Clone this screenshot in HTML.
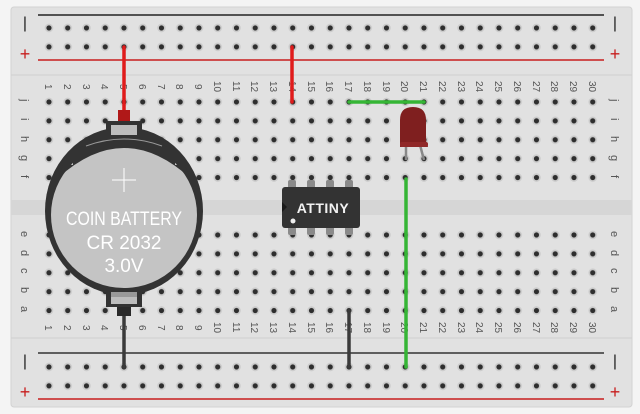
<!DOCTYPE html>
<html><head><meta charset="utf-8"><style>
html,body{margin:0;padding:0;background:#f4f4f4;}
svg{display:block;}
text{font-family:"Liberation Sans",sans-serif;}
</style></head><body>
<svg width="640" height="414" viewBox="0 0 640 414" xmlns="http://www.w3.org/2000/svg">
<defs>
<pattern id="h" patternUnits="userSpaceOnUse" width="18.75" height="18.9">
<circle cx="9.375" cy="9.45" r="4.3" fill="#cbcbcb"/>
<circle cx="9.375" cy="9.45" r="2.6" fill="#2e2e2e"/>
</pattern>
</defs>
<rect x="0" y="0" width="640" height="414" fill="#f4f4f4"/>
<rect x="11" y="7" width="621" height="400" rx="3" fill="#e1e1e1" stroke="#d2d2d2"/>
<line x1="11" y1="75" x2="632" y2="75" stroke="#d0d0d0"/>
<line x1="11" y1="338" x2="632" y2="338" stroke="#d0d0d0"/>
<rect x="11" y="200" width="621" height="15" fill="#d6d6d6"/>
<line x1="38" y1="15" x2="604" y2="15" stroke="#222" stroke-width="1.5"/>
<line x1="38" y1="60" x2="604" y2="60" stroke="#c81e1e" stroke-width="1.5"/>
<line x1="38" y1="353" x2="604" y2="353" stroke="#333" stroke-width="1.5"/>
<line x1="38" y1="399" x2="604" y2="399" stroke="#c81e1e" stroke-width="1.5"/>
<g font-size="16" text-anchor="middle">
<text x="25" y="28" fill="#222">|</text><text x="25" y="60" fill="#c81e1e" font-size="18">+</text>
<text x="615" y="28" fill="#222">|</text><text x="615" y="60" fill="#c81e1e" font-size="18">+</text>
<text x="25" y="366" fill="#222">|</text><text x="25" y="398" fill="#c81e1e" font-size="18">+</text>
<text x="615" y="366" fill="#222">|</text><text x="615" y="398" fill="#c81e1e" font-size="18">+</text>
</g>
<rect transform="translate(39.6,18.5)" width="562.5" height="37.8" fill="url(#h)"/>
<rect transform="translate(39.6,92.5)" width="562.5" height="94.5" fill="url(#h)"/>
<rect transform="translate(39.6,225.5)" width="562.5" height="94.5" fill="url(#h)"/>
<rect transform="translate(39.6,357.5)" width="562.5" height="37.8" fill="url(#h)"/>
<g font-size="10" fill="#555" id="nums">
<text transform="translate(45,84) rotate(90)">1</text>
<text transform="translate(64,84) rotate(90)">2</text>
<text transform="translate(83,84) rotate(90)">3</text>
<text transform="translate(101,84) rotate(90)">4</text>
<text transform="translate(120,84) rotate(90)">5</text>
<text transform="translate(139,84) rotate(90)">6</text>
<text transform="translate(158,84) rotate(90)">7</text>
<text transform="translate(176,84) rotate(90)">8</text>
<text transform="translate(195,84) rotate(90)">9</text>
<text transform="translate(214,81) rotate(90)">10</text>
<text transform="translate(233,81) rotate(90)">11</text>
<text transform="translate(251,81) rotate(90)">12</text>
<text transform="translate(270,81) rotate(90)">13</text>
<text transform="translate(289,81) rotate(90)">14</text>
<text transform="translate(308,81) rotate(90)">15</text>
<text transform="translate(326,81) rotate(90)">16</text>
<text transform="translate(345,81) rotate(90)">17</text>
<text transform="translate(364,81) rotate(90)">18</text>
<text transform="translate(383,81) rotate(90)">19</text>
<text transform="translate(401,81) rotate(90)">20</text>
<text transform="translate(420,81) rotate(90)">21</text>
<text transform="translate(439,81) rotate(90)">22</text>
<text transform="translate(458,81) rotate(90)">23</text>
<text transform="translate(476,81) rotate(90)">24</text>
<text transform="translate(495,81) rotate(90)">25</text>
<text transform="translate(514,81) rotate(90)">26</text>
<text transform="translate(533,81) rotate(90)">27</text>
<text transform="translate(551,81) rotate(90)">28</text>
<text transform="translate(570,81) rotate(90)">29</text>
<text transform="translate(589,81) rotate(90)">30</text>
</g>
<use href="#nums" transform="translate(0,241)"/>
<g font-size="11" fill="#555">
<text transform="translate(21,99) rotate(90)">j</text>
<text transform="translate(21,118) rotate(90)">i</text>
<text transform="translate(21,136) rotate(90)">h</text>
<text transform="translate(21,155) rotate(90)">g</text>
<text transform="translate(21,175) rotate(90)">f</text>
<text transform="translate(21,231) rotate(90)">e</text>
<text transform="translate(21,250) rotate(90)">d</text>
<text transform="translate(21,268) rotate(90)">c</text>
<text transform="translate(21,287) rotate(90)">b</text>
<text transform="translate(21,306) rotate(90)">a</text>
<text transform="translate(611,99) rotate(90)">j</text>
<text transform="translate(611,118) rotate(90)">i</text>
<text transform="translate(611,136) rotate(90)">h</text>
<text transform="translate(611,155) rotate(90)">g</text>
<text transform="translate(611,175) rotate(90)">f</text>
<text transform="translate(611,231) rotate(90)">e</text>
<text transform="translate(611,250) rotate(90)">d</text>
<text transform="translate(611,268) rotate(90)">c</text>
<text transform="translate(611,287) rotate(90)">b</text>
<text transform="translate(611,306) rotate(90)">a</text>
</g>
<line x1="124" y1="47" x2="124" y2="112" stroke="#e01b1b" stroke-width="3.5" stroke-linecap="round"/>
<line x1="292" y1="47" x2="292" y2="102" stroke="#e01b1b" stroke-width="3.5" stroke-linecap="round"/>
<line x1="349" y1="102" x2="424" y2="102" stroke="#35b535" stroke-width="3.5" stroke-linecap="round"/>
<line x1="406" y1="179" x2="406" y2="367" stroke="#35b535" stroke-width="3.5" stroke-linecap="round"/>
<line x1="349" y1="311" x2="349" y2="367" stroke="#3a3a3a" stroke-width="3.5" stroke-linecap="round"/>
<line x1="124" y1="310" x2="124" y2="367" stroke="#3a3a3a" stroke-width="3.5" stroke-linecap="round"/>
<rect x="118" y="110" width="12" height="14" fill="#b01818"/>
<rect x="117" y="300" width="14" height="16" fill="#2a2a2a"/>
<ellipse cx="124" cy="211" rx="79" ry="84" fill="#333"/>
<rect x="106" y="121" width="36" height="16" fill="#333"/>
<rect x="111" y="125" width="26" height="10" fill="#bdbdbd"/>
<rect x="106" y="287" width="36" height="20" fill="#333"/>
<rect x="111" y="292" width="26" height="12" fill="#bdbdbd"/>
<rect x="111" y="292" width="26" height="5" fill="#999"/>
<ellipse cx="124" cy="215" rx="73" ry="73" fill="#c4c4c4"/>
<path d="M58 178 Q124 118 190 178 L185 165 L175 165 L175 150 Q124 128 73 150 L73 165 L63 165 Z" fill="#333"/>
<path d="M86 146 Q124 132 162 146" fill="none" stroke="#999" stroke-width="1"/>
<g stroke="#fff" stroke-width="1"><line x1="112" y1="180" x2="136" y2="180"/><line x1="124" y1="168" x2="124" y2="192"/></g>
<g fill="#fff" font-size="19" text-anchor="middle" font-weight="300">
<text x="124" y="225" textLength="116" lengthAdjust="spacingAndGlyphs">COIN BATTERY</text>
<text x="124" y="249">CR 2032</text>
<text x="124" y="272">3.0V</text>
</g>
<g fill="#8a8a8a">
<rect x="288" y="180" width="8" height="10" rx="2"/><rect x="307" y="180" width="8" height="10" rx="2"/><rect x="326" y="180" width="8" height="10" rx="2"/><rect x="345" y="180" width="8" height="10" rx="2"/>
<rect x="288" y="225" width="8" height="10" rx="2"/><rect x="307" y="225" width="8" height="10" rx="2"/><rect x="326" y="225" width="8" height="10" rx="2"/><rect x="345" y="225" width="8" height="10" rx="2"/>
</g>
<rect x="282" y="187" width="78" height="41" rx="3" fill="#333"/>
<path d="M282 202 L287 207 L282 212 Z" fill="#1a1a1a"/>
<circle cx="293" cy="221" r="2.5" fill="#eee"/>
<text x="323" y="213" fill="#f2f2f2" font-size="14" font-weight="bold" text-anchor="middle" letter-spacing="0.5">ATTINY</text>
<g stroke="#888" stroke-width="2.5"><line x1="406" y1="145" x2="406" y2="160"/><line x1="420" y1="145" x2="424" y2="160"/></g>
<path d="M400 147 L400 120 Q400 107 413 107 Q426 107 426 120 L426 141 L428 147 Z" fill="#7f1f1f"/>
<rect x="400" y="142" width="28" height="5" rx="2" fill="#902828"/>
</svg>
</body></html>
